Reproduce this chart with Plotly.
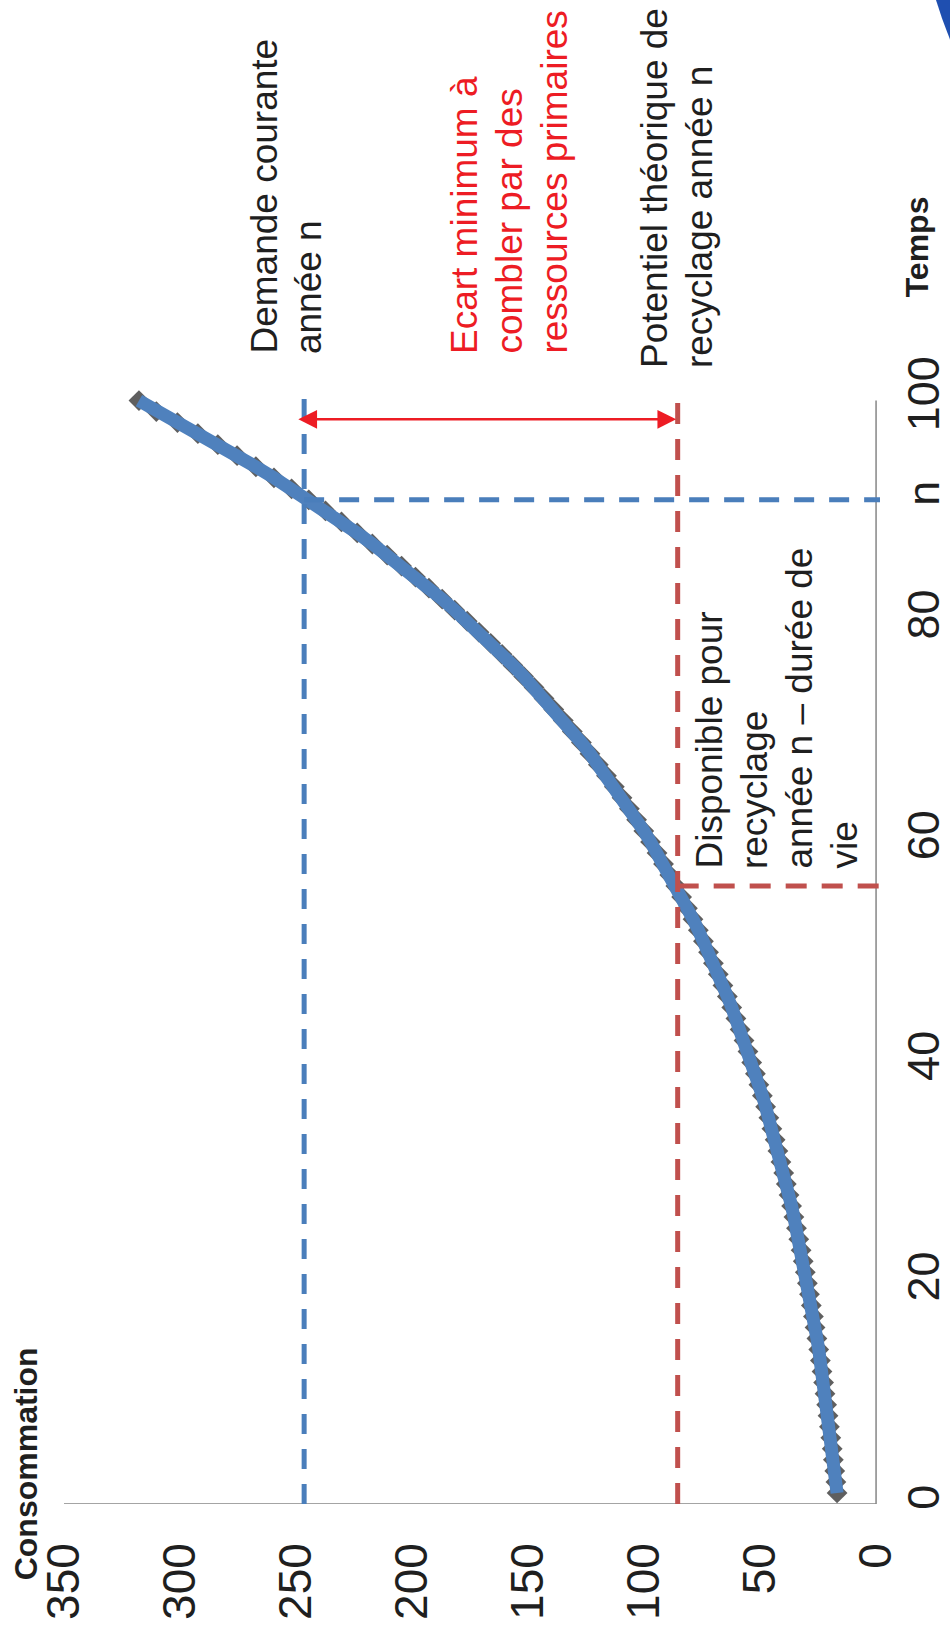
import plotly.graph_objects as go

# ---------------- data ----------------
temps = list(range(1, 101))
consommation = [
    16.8, 17.3, 17.8, 18.4, 18.9, 19.5, 20.1, 20.7, 21.3, 22.0,
    22.6, 23.3, 24.0, 24.7, 25.5, 26.3, 27.0, 27.9, 28.7, 29.6,
    30.5, 31.4, 32.3, 33.3, 34.3, 35.4, 36.4, 37.5, 38.7, 39.8,
    41.0, 42.3, 43.5, 44.9, 46.2, 47.6, 49.0, 50.5, 52.0, 53.6,
    55.2, 56.9, 58.6, 60.4, 62.2, 64.1, 66.0, 68.0, 70.1, 72.2,
    74.4, 76.6, 78.9, 81.3, 83.8, 86.3, 88.9, 91.6, 94.4, 97.2,
    100.1, 103.2, 106.3, 109.5, 112.8, 116.2, 119.7, 123.3, 127.0, 130.9,
    134.8, 138.9, 143.1, 147.4, 151.9, 156.5, 161.2, 166.1, 171.1, 176.2,
    181.6, 187.0, 192.7, 198.5, 204.5, 210.7, 217.1, 223.6, 230.4, 237.3,
    244.5, 251.9, 259.5, 267.3, 275.4, 283.7, 292.3, 301.1, 310.2, 317.7,
]
cons_ticks = [0, 50, 100, 150, 200, 250, 300, 350]
temps_ticks = [0, 20, 40, 60, 80, 91, 100]
temps_ticktext = ["0", "20", "40", "60", "80", "n", "100"]

annee_n = 91          # année n
annee_dispo = 56      # année n - durée de vie
demande_n = 246.5     # demande courante année n
potentiel_n = 85.5    # potentiel théorique de recyclage année n
fleche_temps = 98.3   # position of the red arrow

label_demande = ["Demande courante", "année n"]
label_ecart = ["Ecart minimum à", "combler par des", "ressources primaires"]
label_potentiel = ["Potentiel théorique de", "recyclage année n"]
label_dispo = ["Disponible pour", "recyclage", "année n – durée de", "vie"]

# ---------------- layout geometry ----------------
W, H = 950, 1642
L, R, T, B = 64, 70, 384, 138
X_RANGE = [350, -1.7]
Y_RANGE = [0, 101.5]


def px(x):
    return (x - L) / (W - L - R)


def py(y):
    return (H - B - y) / (H - T - B)


FONT = "Liberation Sans, Arial, sans-serif"
TXT = "#1f1f1f"
RED = "#ed1c24"
BLUE_D = "#4a7ebb"
RED_D = "#c0504d"
AXIS = "#868686"

fig = go.Figure()

# markers (drawn first so the thick line sits over them)
fig.add_trace(go.Scatter(
    x=consommation, y=temps, mode="markers",
    marker=dict(symbol="diamond", size=16, color="#5f5f5f", line=dict(width=0)),
    hoverinfo="skip", showlegend=False, cliponaxis=False,
))
fig.add_trace(go.Scatter(
    x=consommation, y=temps, mode="lines",
    line=dict(color="#4f81bd", width=13),
    hoverinfo="skip", showlegend=False,
))

shapes = [
    # axis lines
    dict(type="line", xref="x", yref="y", x0=0, x1=350, y0=0, y1=0,
         line=dict(color=AXIS, width=1.5), layer="below"),
    dict(type="line", xref="x", yref="y", x0=0, x1=0, y0=0, y1=100,
         line=dict(color=AXIS, width=1.5), layer="below"),
    # blue dashed guides
    dict(type="line", xref="x", yref="y", x0=demande_n, x1=demande_n, y0=0, y1=100.9,
         line=dict(color=BLUE_D, width=5, dash="20px,15px"), layer="above"),
    dict(type="line", xref="x", yref="y", x0=demande_n, x1=-1.7, y0=annee_n, y1=annee_n,
         line=dict(color=BLUE_D, width=5, dash="20px,15px"), layer="above"),
    # red dashed guides
    dict(type="line", xref="x", yref="y", x0=potentiel_n, x1=potentiel_n, y0=0, y1=100.9,
         line=dict(color=RED_D, width=5, dash="21px,15px"), layer="above"),
    dict(type="line", xref="x", yref="y", x0=potentiel_n, x1=-1.7, y0=annee_dispo, y1=annee_dispo,
         line=dict(color=RED_D, width=5, dash="21px,15px"), layer="above"),
    # blue logo fragment in the top-right corner
    dict(type="path", xref="paper", yref="paper",
         path=f"M {px(936)},{py(0)} L {px(951)},{py(0)} L {px(951)},{py(42)} "
              f"Q {px(942)},{py(20)} {px(936)},{py(0)} Z",
         fillcolor="#1f4fb0", line=dict(width=0), layer="above"),
]

annotations = [
    # double arrow
    dict(x=demande_n + 2.5, y=fleche_temps, ax=potentiel_n, ay=fleche_temps,
         xref="x", yref="y", axref="x", ayref="y", text="",
         showarrow=True, arrowside="end+start", arrowhead=2, startarrowhead=2,
         arrowsize=1.5, startarrowsize=1.5, arrowwidth=2.5, arrowcolor=RED,
         standoff=0, startstandoff=0),
]


def rotated_lines(lines, first_baseline, start_y, size, color, spacing=45, bold=False):
    """Vertical text (reading bottom to top), one annotation per line."""
    for i, line in enumerate(lines):
        baseline = first_baseline + i * spacing
        txt = f"<b>{line}</b>" if bold else line
        annotations.append(dict(
            x=px(baseline - 0.35 * size), y=py(start_y), xref="paper", yref="paper",
            textangle=-90, text=txt, showarrow=False, borderpad=0,
            xanchor="center", yanchor="bottom",
            font=dict(family=FONT, size=size, color=color),
        ))


rotated_lines(label_demande, 277, 355, 37, TXT, spacing=44)
rotated_lines(label_ecart, 477, 355, 37, RED, spacing=45)
rotated_lines(label_potentiel, 668, 369, 37, TXT, spacing=45)
rotated_lines(label_dispo, 722, 870, 37, TXT, spacing=45)
rotated_lines(["Temps"], 928, 298, 32, TXT, bold=True)
rotated_lines(["Consommation"], 37, 1581, 32, TXT, bold=True)

fig.update_layout(
    template="none",
    width=W, height=H,
    margin=dict(l=L, r=R, t=T, b=B, pad=0, autoexpand=False),
    paper_bgcolor="white", plot_bgcolor="white",
    shapes=shapes, annotations=annotations,
    showlegend=False,
    font=dict(family=FONT, color=TXT),
)
fig.update_xaxes(
    automargin=False,
    range=X_RANGE, showgrid=False, zeroline=False, showline=False,
    tickmode="array", tickvals=cons_ticks, ticks="", tickangle=-90,
    tickfont=dict(family=FONT, size=46, color=TXT), ticklabelstandoff=29,
)
fig.update_yaxes(
    automargin=False,
    range=Y_RANGE, side="right", showgrid=False, zeroline=False, showline=False,
    tickmode="array", tickvals=temps_ticks, ticktext=temps_ticktext, ticks="",
    tickangle=-90, tickfont=dict(family=FONT, size=45, color=TXT), ticklabelstandoff=13,
)

fig.write_html(
    "out.html",
    config={"displayModeBar": False, "staticPlot": True},
    post_script="document.body.style.margin='0';document.body.style.padding='0';"
                "document.body.style.overflow='hidden';",
)
